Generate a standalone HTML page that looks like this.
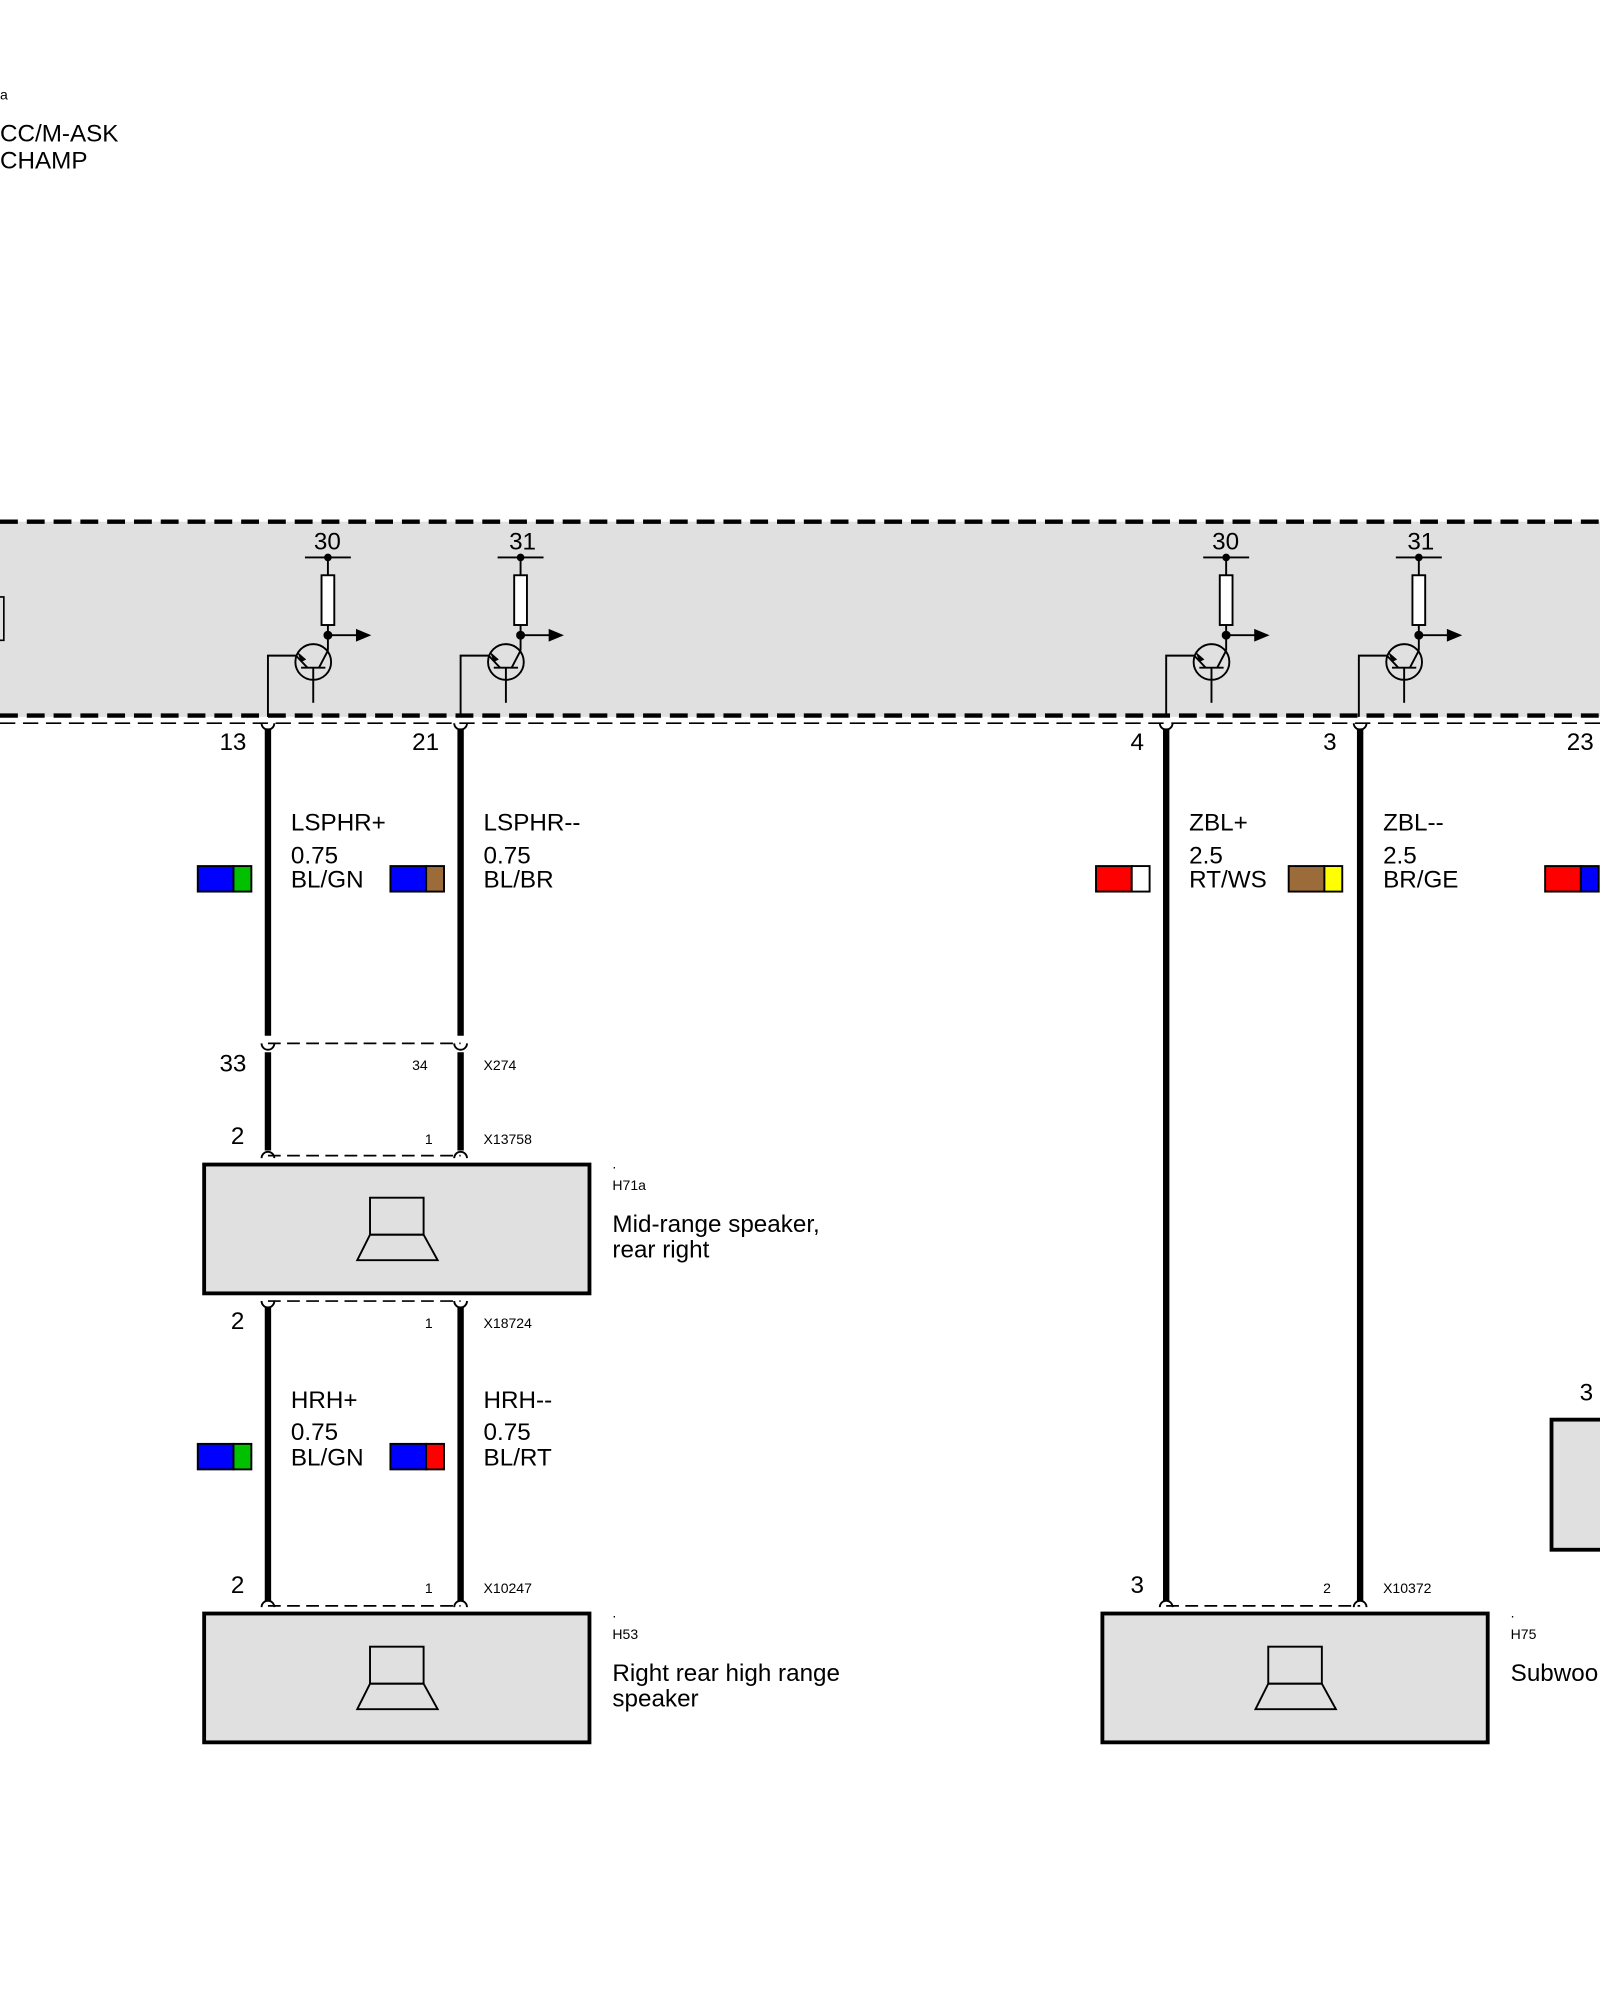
<!DOCTYPE html>
<html><head><meta charset="utf-8"><style>
html,body{margin:0;padding:0;background:#fff;}
svg{display:block;}
text{font-family:"Liberation Sans",sans-serif;fill:#000;}
.l{font-size:19px;}
.s{font-size:11px;}
</style></head><body>
<svg width="1600" height="2000" viewBox="0 0 1254 1568" preserveAspectRatio="none" xmlns="http://www.w3.org/2000/svg">
<rect x="0" y="0" width="1254" height="1568" fill="#fff"/>
<text class="s" x="0" y="78">a</text>
<text class="l" x="0" y="111">CC/M-ASK</text>
<text class="l" x="0" y="132">CHAMP</text>

<rect x="-5" y="409" width="1265" height="153" fill="#e0e0e0"/>
<line x1="0" y1="409" x2="1254" y2="409" stroke="#000" stroke-width="3.5" stroke-dasharray="14,7"/>
<line x1="0" y1="561" x2="1254" y2="561" stroke="#000" stroke-width="3.5" stroke-dasharray="14,7"/>
<line x1="0" y1="567" x2="1254" y2="567" stroke="#000" stroke-width="1.3" stroke-dasharray="12,6"/>
<rect x="-10" y="468" width="13" height="34" fill="none" stroke="#000" stroke-width="1.3"/>

<defs>
<g id="tr">
<line x1="-18" y1="437" x2="18" y2="437" stroke="#000" stroke-width="1.5"/>
<circle cx="0" cy="437" r="3" fill="#000"/>
<line x1="0" y1="437" x2="0" y2="451" stroke="#000" stroke-width="1.5"/>
<rect x="-5" y="451" width="10" height="39" fill="#fff" stroke="#000" stroke-width="1.5"/>
<line x1="0" y1="490" x2="0" y2="510" stroke="#000" stroke-width="1.5"/>
<circle cx="0" cy="498" r="3.5" fill="#000"/>
<line x1="0" y1="498" x2="24" y2="498" stroke="#000" stroke-width="1.5"/>
<polygon points="22,493 34,498 22,503" fill="#000"/>
<circle cx="-11.5" cy="519" r="14" fill="none" stroke="#000" stroke-width="1.5"/>
<line x1="-21" y1="523.5" x2="-2" y2="523.5" stroke="#000" stroke-width="1.5"/>
<line x1="-11.5" y1="523.5" x2="-11.5" y2="551" stroke="#000" stroke-width="1.5"/>
<line x1="-7" y1="523.5" x2="0" y2="510" stroke="#000" stroke-width="1.5"/>
<line x1="-25" y1="514" x2="-16" y2="523.5" stroke="#000" stroke-width="1.5"/>
<polygon points="-24,511 -17,517 -21,519" fill="#000"/>
<polyline points="-47,562 -47,514 -25,514" fill="none" stroke="#000" stroke-width="1.5"/>
</g>
</defs>
<use href="#tr" x="257"/><text class="l" x="246" y="431">30</text>
<use href="#tr" x="408"/><text class="l" x="399" y="431">31</text>
<use href="#tr" x="961"/><text class="l" x="950" y="431">30</text>
<use href="#tr" x="1112"/><text class="l" x="1103" y="431">31</text>

<g stroke="#000" stroke-width="5">
<line x1="210" y1="571" x2="210" y2="812"/>
<line x1="361" y1="571" x2="361" y2="812"/>
<line x1="210" y1="825" x2="210" y2="902"/>
<line x1="361" y1="825" x2="361" y2="902"/>
<line x1="210" y1="1025" x2="210" y2="1255"/>
<line x1="361" y1="1025" x2="361" y2="1255"/>
<line x1="914" y1="571" x2="914" y2="1255"/>
<line x1="1066" y1="571" x2="1066" y2="1255"/>
</g>
<g fill="none" stroke="#000" stroke-width="1.5">
<path d="M205,567 a5,5 0 0 0 10,0"/><path d="M356,567 a5,5 0 0 0 10,0"/>
<path d="M909,567 a5,5 0 0 0 10,0"/><path d="M1061,567 a5,5 0 0 0 10,0"/>
<path d="M205,818 a5,5 0 0 0 10,0"/><path d="M356,818 a5,5 0 0 0 10,0"/>
<path d="M205,908 a5,5 0 0 1 10,0"/><path d="M356,908 a5,5 0 0 1 10,0"/>
<path d="M205,1020 a5,5 0 0 0 10,0"/><path d="M356,1020 a5,5 0 0 0 10,0"/>
<path d="M205,1260 a5,5 0 0 1 10,0"/><path d="M356,1260 a5,5 0 0 1 10,0"/>
<path d="M909,1260 a5,5 0 0 1 10,0"/><path d="M1061,1260 a5,5 0 0 1 10,0"/>
</g>
<g stroke="#000" stroke-width="1.3" stroke-dasharray="10,5">
<line x1="210" y1="818" x2="361" y2="818"/>
<line x1="210" y1="906" x2="361" y2="906"/>
<line x1="210" y1="1020" x2="361" y2="1020"/>
<line x1="210" y1="1259" x2="361" y2="1259"/>
<line x1="914" y1="1259" x2="1066" y2="1259"/>
</g>

<text class="l" x="172" y="588">13</text>
<text class="l" x="323" y="588">21</text>
<text class="l" x="886" y="588">4</text>
<text class="l" x="1037" y="588">3</text>
<text class="l" x="1228" y="588">23</text>

<g class="l">
<text class="l" x="228" y="651">LSPHR+</text><text class="l" x="228" y="677">0.75</text><text class="l" x="228" y="696">BL/GN</text>
<text class="l" x="379" y="651">LSPHR--</text><text class="l" x="379" y="677">0.75</text><text class="l" x="379" y="696">BL/BR</text>
<text class="l" x="932" y="651">ZBL+</text><text class="l" x="932" y="677">2.5</text><text class="l" x="932" y="696">RT/WS</text>
<text class="l" x="1084" y="651">ZBL--</text><text class="l" x="1084" y="677">2.5</text><text class="l" x="1084" y="696">BR/GE</text>
<text class="l" x="228" y="1104">HRH+</text><text class="l" x="228" y="1129">0.75</text><text class="l" x="228" y="1149">BL/GN</text>
<text class="l" x="379" y="1104">HRH--</text><text class="l" x="379" y="1129">0.75</text><text class="l" x="379" y="1149">BL/RT</text>
</g>

<g stroke="#000" stroke-width="1.5">
<rect x="155" y="679" width="28" height="20" fill="#0000ff"/><rect x="183" y="679" width="14" height="20" fill="#00c000"/>
<rect x="306" y="679" width="28" height="20" fill="#0000ff"/><rect x="334" y="679" width="14" height="20" fill="#9c6b3a"/>
<rect x="859" y="679" width="28" height="20" fill="#ff0000"/><rect x="887" y="679" width="14" height="20" fill="#fff"/>
<rect x="1010" y="679" width="28" height="20" fill="#9c6b3a"/><rect x="1038" y="679" width="14" height="20" fill="#ffff00"/>
<rect x="1211" y="679" width="28" height="20" fill="#ff0000"/><rect x="1239" y="679" width="14" height="20" fill="#0000ff"/>
<rect x="155" y="1132" width="28" height="20" fill="#0000ff"/><rect x="183" y="1132" width="14" height="20" fill="#00c000"/>
<rect x="306" y="1132" width="28" height="20" fill="#0000ff"/><rect x="334" y="1132" width="14" height="20" fill="#ff0000"/>
</g>

<text class="l" x="172" y="840">33</text><text class="s" x="323" y="839">34</text><text class="s" x="379" y="839">X274</text>
<text class="l" x="181" y="897">2</text><text class="s" x="333" y="897">1</text><text class="s" x="379" y="897">X13758</text>
<text class="l" x="181" y="1042">2</text><text class="s" x="333" y="1041">1</text><text class="s" x="379" y="1041">X18724</text>
<text class="l" x="181" y="1249">2</text><text class="s" x="333" y="1249">1</text><text class="s" x="379" y="1249">X10247</text>
<text class="l" x="886" y="1249">3</text><text class="s" x="1037" y="1249">2</text><text class="s" x="1084" y="1249">X10372</text>

<defs>
<g id="spk">
<rect x="0" y="0" width="302" height="101" fill="#e0e0e0" stroke="#000" stroke-width="3"/>
<rect x="130" y="26" width="42" height="29" fill="none" stroke="#000" stroke-width="1.5"/>
<polygon points="130,55 172,55 183,75 120,75" fill="none" stroke="#000" stroke-width="1.5"/>
</g>
</defs>
<use href="#spk" x="160" y="913"/>
<use href="#spk" x="160" y="1265"/>
<use href="#spk" x="864" y="1265"/>
<rect x="1216" y="1113" width="60" height="102" fill="#e0e0e0" stroke="#000" stroke-width="3"/>
<text class="l" x="1238" y="1098">3</text>

<text class="s" x="480" y="916">.</text><text class="s" x="480" y="933">H71a</text>
<text class="l" x="480" y="966">Mid-range speaker,</text><text class="l" x="480" y="986">rear right</text>
<text class="s" x="480" y="1268">.</text><text class="s" x="480" y="1285">H53</text>
<text class="l" x="480" y="1318">Right rear high range</text><text class="l" x="480" y="1338">speaker</text>
<text class="s" x="1184" y="1268">.</text><text class="s" x="1184" y="1285">H75</text>
<text class="l" x="1184" y="1318">Subwoo</text>
</svg>
</body></html>
